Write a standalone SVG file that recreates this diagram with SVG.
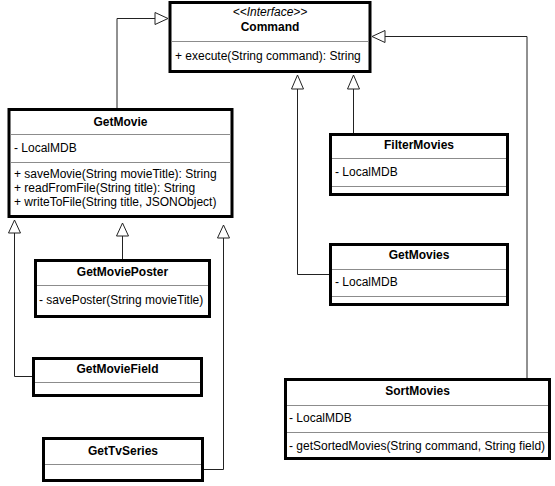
<svg xmlns="http://www.w3.org/2000/svg" width="555" height="486" viewBox="0 0 555 486">
<style>
.box{fill:#fff;stroke:#000;stroke-width:3}
.div{stroke:#8c8c8c;stroke-width:1;fill:none}
.t{font-family:"Liberation Sans",Arial,sans-serif;font-size:12px;fill:#000}
.b{font-weight:bold;text-anchor:middle}
.i{font-style:italic;text-anchor:middle}
.edge{fill:none;stroke:#222;stroke-width:1}
.tri{fill:#fff;stroke:#222;stroke-width:1}
</style>
<rect width="555" height="486" fill="#fff"/>
<g id="connectors">
  <polyline class="edge" points="117,108 117,18.5 155,18.5"/>
  <polygon class="tri" points="168,18.5 155,12.5 155,24.5"/>
  <polyline class="edge" points="527,378 527,36.5 385,36.5"/>
  <polygon class="tri" points="372,36.5 385,30.5 385,42.5"/>
  <polyline class="edge" points="353.5,133 353.5,89"/>
  <polygon class="tri" points="353.5,75 347.5,89 359.5,89"/>
  <polyline class="edge" points="329,274.5 297.5,274.5 297.5,89"/>
  <polygon class="tri" points="297.5,75 291.5,89 303.5,89"/>
  <polyline class="edge" points="32,376.5 14.5,376.5 14.5,233"/>
  <polygon class="tri" points="14.5,220 8.5,233 20.5,233"/>
  <polyline class="edge" points="122.5,259 122.5,236"/>
  <polygon class="tri" points="122.5,223 116.5,236 128.5,236"/>
  <polyline class="edge" points="204,469.5 223.5,469.5 223.5,238"/>
  <polygon class="tri" points="223.5,225 217.5,238 229.5,238"/>
</g>
<g id="Command">
  <rect class="box" x="170" y="2.5" width="200" height="69"/>
  <line class="div" x1="171.5" y1="41.5" x2="368.5" y2="41.5"/>
  <text class="t i" x="270" y="16">&lt;&lt;Interface&gt;&gt;</text>
  <text class="t b" x="270" y="31">Command</text>
  <text class="t" x="175" y="60">+ execute(String command): String</text>
</g>
<g id="GetMovie">
  <rect class="box" x="9" y="109.5" width="223" height="107"/>
  <line class="div" x1="10.5" y1="134.5" x2="230.5" y2="134.5"/>
  <line class="div" x1="10.5" y1="162.5" x2="230.5" y2="162.5"/>
  <text class="t b" x="120.5" y="126">GetMovie</text>
  <text class="t" x="14" y="152">- LocalMDB</text>
  <text class="t" x="14" y="178">+ saveMovie(String movieTitle): String</text>
  <text class="t" x="14" y="192">+ readFromFile(String title): String</text>
  <text class="t" x="14" y="206">+ writeToFile(String title, JSONObject)</text>
</g>
<g id="GetMoviePoster">
  <rect class="box" x="35.5" y="260.5" width="174" height="56"/>
  <line class="div" x1="37" y1="285.5" x2="208" y2="285.5"/>
  <text class="t b" x="122.5" y="276">GetMoviePoster</text>
  <text class="t" x="39" y="304">- savePoster(String movieTitle)</text>
</g>
<g id="GetMovieField">
  <rect class="box" x="33.5" y="358.5" width="168" height="37"/>
  <line class="div" x1="35" y1="382.5" x2="200" y2="382.5"/>
  <text class="t b" x="117.5" y="373">GetMovieField</text>
</g>
<g id="GetTvSeries">
  <rect class="box" x="43.5" y="438.5" width="159" height="42"/>
  <line class="div" x1="45" y1="464.5" x2="201" y2="464.5"/>
  <text class="t b" x="123" y="455">GetTvSeries</text>
</g>
<g id="FilterMovies">
  <rect class="box" x="330.5" y="134.5" width="177" height="60"/>
  <line class="div" x1="332" y1="158.5" x2="506" y2="158.5"/>
  <line class="div" x1="332" y1="186.5" x2="506" y2="186.5"/>
  <text class="t b" x="419" y="149">FilterMovies</text>
  <text class="t" x="335" y="176">- LocalMDB</text>
</g>
<g id="GetMovies">
  <rect class="box" x="330.5" y="244.5" width="177" height="60"/>
  <line class="div" x1="332" y1="269.5" x2="506" y2="269.5"/>
  <line class="div" x1="332" y1="296.5" x2="506" y2="296.5"/>
  <text class="t b" x="419" y="259">GetMovies</text>
  <text class="t" x="335" y="286">- LocalMDB</text>
</g>
<g id="SortMovies">
  <rect class="box" x="285.5" y="379.5" width="264" height="79"/>
  <line class="div" x1="287" y1="405.5" x2="548" y2="405.5"/>
  <line class="div" x1="287" y1="432.5" x2="548" y2="432.5"/>
  <text class="t b" x="417.5" y="395">SortMovies</text>
  <text class="t" x="289" y="422">- LocalMDB</text>
  <text class="t" x="289" y="450">- getSortedMovies(String command, String field)</text>
</g>
</svg>
